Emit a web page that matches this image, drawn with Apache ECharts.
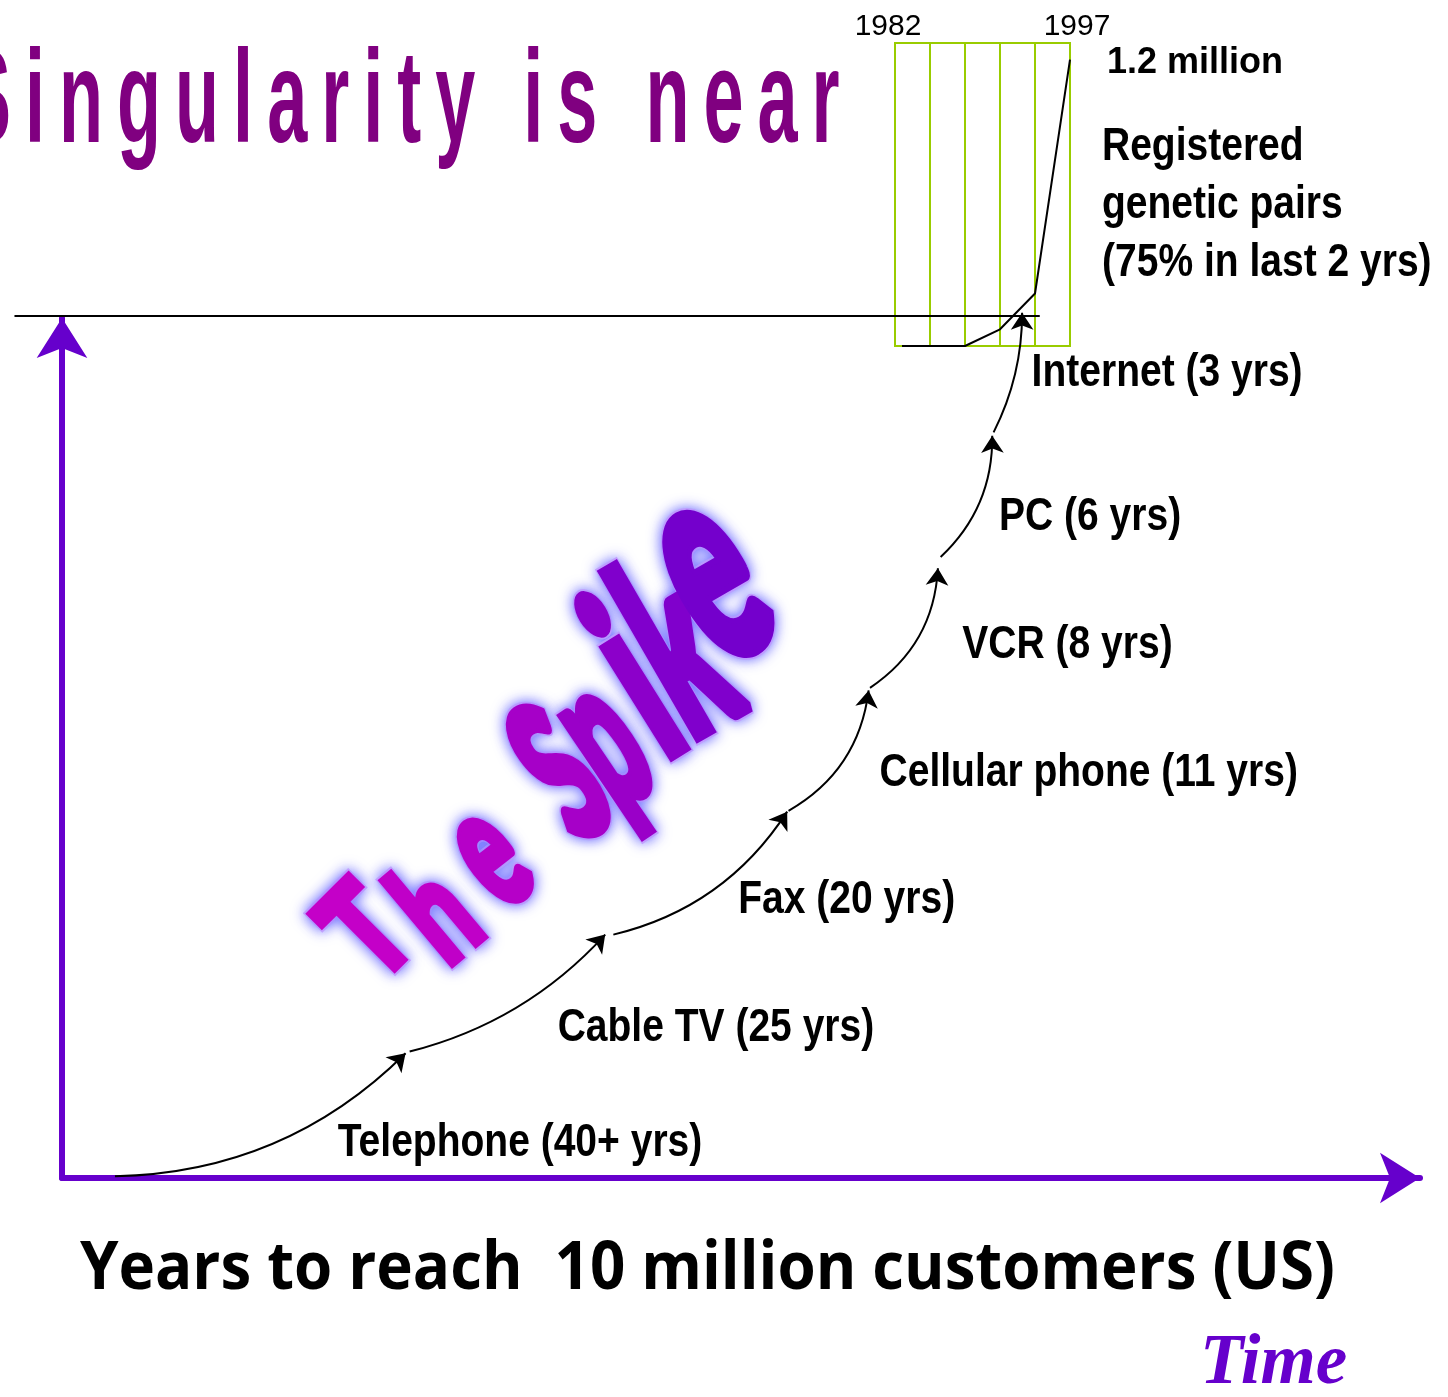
<!DOCTYPE html>
<html>
<head>
<meta charset="utf-8">
<script src="https://cdn.jsdelivr.net/npm/echarts@6/dist/echarts.min.js"></script>
<style>
  html, body { margin: 0; padding: 0; background: #fff; }
  #main { width: 1448px; height: 1397px; }
</style>
</head>
<body>
<div id="main"></div>
<script>
// steps towards 10 million customers: x = time, y = share of the 10 million (%)
var stepNames = ['Telephone (40+ yrs)', 'Cable TV (25 yrs)', 'Fax (20 yrs)', 'Cellular phone (11 yrs)', 'VCR (8 yrs)', 'PC (6 yrs)', 'Internet (3 yrs)'];
var stepStartX = [3.9, 25.6, 40.6, 53.5, 59.5, 64.7, 68.6];
var stepStartY = [0.2, 14.7, 28.3, 42.7, 57.0, 72.2, 86.7];
var stepEndX = [25.3, 40.0, 53.4, 59.4, 64.5, 68.5, 70.7];
var stepEndY = [14.5, 28.3, 42.6, 56.7, 70.9, 86.3, 100.6];
var stepBend = [-0.2, -0.15, -0.2, -0.25, -0.25, -0.22, -0.12];
var labelX = [20.3, 36.5, 49.8, 60.2, 66.3, 69.0, 71.4];
var labelY = [4.1, 17.4, 32.3, 47.1, 62.0, 76.9, 93.6];
var thresholdX = [-3.5, 72];
var thresholdY = 100.3;

// registered genetic pairs, 1982 - 1997
var pairYears = [0.6, 6, 9, 12, 15]; // years after 1982
var pairMillions = [0, 0, 0.07, 0.22, 1.2];
var yearLabels = ['1982', '1997'];

var sans = '"Liberation Sans", Arial, sans-serif';
var purple = '#6600CC';
var labelFont = 'bold 47px ' + sans;
var narrowScale = 0.83; // Liberation Sans squeezed to an Arial Narrow width

var measure = document.createElement('canvas').getContext('2d');
function textWidth(str, font) {
  measure.font = font;
  return measure.measureText(str).width;
}

// big heading, laid out letter by letter (condensed and spaced)
var headText = 'Singularity is near';
var headFont = 'bold 131px ' + sans;
var headEls = [];
var hx = -37;
for (var i = 0; i < headText.length; i++) {
  var ch = headText[i];
  if (ch !== ' ') {
    headEls.push({
      type: 'text', x: hx, y: 106, scaleX: 0.55,
      style: { text: ch, font: headFont, fill: '#800080', textVerticalAlign: 'middle', verticalAlign: 'middle' }
    });
  }
  hx += textWidth(ch, headFont) * 0.55 + 14;
}

// "The Spike" word art: letter, glyph centre x, y, size, squeeze, angle, glyph centre height (em), colour, weight stroke
var spikeFont = '900 {s}px Lato, "Liberation Sans", sans-serif';
var spike = [
  ['T', 371, 936, 136, 0.72, 45, 0.358, '#c400c8', 7],
  ['h', 440, 917, 146, 0.66, 40, 0.365, '#c000c8', 7],
  ['e', 501, 871, 174, 0.52, 38, 0.253, '#b600c8', 9],
  ['S', 566, 782, 196, 0.5, 36, 0.358, '#a600c8', 10],
  ['p', 630, 780, 210, 0.47, 34, 0.15, '#9a00c8', 10],
  ['i', 640, 690, 244, 0.55, 32, 0.36, '#8c00ca', 11],
  ['k', 682, 658, 252, 0.5, 30, 0.365, '#8000cc', 12],
  ['e', 725, 602, 285, 0.5, 30, 0.253, '#7400cc', 13]
];
var spikeEls = [];
spike.forEach(function (s) {
  var r = s[5] * Math.PI / 180;
  var lift = (0.387 - s[6]) * s[3];
  var base = {
    x: s[1] - lift * Math.sin(r), y: s[2] - lift * Math.cos(r),
    scaleX: s[4], rotation: r
  };
  var text = { text: s[0], font: spikeFont.replace('{s}', s[3]), textAlign: 'center', align: 'center', textVerticalAlign: 'middle', verticalAlign: 'middle' };
  // soft blue glow with a light rim
  spikeEls.push(echarts.util.extend({
    type: 'text', z: 1,
    style: echarts.util.extend({
      fill: '#c8a4ff', stroke: '#c8a4ff', lineWidth: s[8] + 4, lineJoin: 'round',
      textShadowBlur: 14, textShadowColor: 'rgba(100,100,255,0.9)'
    }, text)
  }, base));
  // letter body
  spikeEls.push(echarts.util.extend({
    type: 'text', z: 2,
    style: echarts.util.extend({ fill: s[7], stroke: s[7], lineWidth: s[8], lineJoin: 'round' }, text)
  }, base));
});

var caption = 'Years to reach  10 million customers (US)';
var captionFont = 'bold 66px "Open Sans", sans-serif';
var captionScale = 1255 / textWidth(caption, captionFont);

var staticEls = headEls.concat(spikeEls).concat([{
  type: 'text', x: 80, y: 1270, scaleX: captionScale,
  style: { text: caption, font: captionFont, fill: '#000', textVerticalAlign: 'middle', verticalAlign: 'middle' }
}, {
  type: 'text', x: 1102, y: 118, scaleX: narrowScale,
  style: { text: 'Registered\ngenetic pairs\n(75% in last 2 yrs)', font: labelFont, lineHeight: 58, fill: '#000' }
}]);

var myChart = echarts.init(document.getElementById('main'));

var option = {
  animation: false,
  backgroundColor: '#fff',
  title: {
    text: 'Time',
    left: 1200, top: 1329, padding: 0,
    textStyle: { fontFamily: '"Liberation Serif", serif', fontStyle: 'italic', fontWeight: 'bold', fontSize: 71, lineHeight: 71, color: purple }
  },
  grid: [
    { left: 62, top: 318, right: 28, bottom: 219, outerBoundsMode: 'none' },
    { left: 895, top: 43, width: 175, height: 303, show: true, borderColor: '#99CC00', borderWidth: 2, outerBoundsMode: 'none' }
  ],
  xAxis: [{
    gridIndex: 0, type: 'value', min: 0, max: 100,
    axisLine: { show: true, symbol: ['none', 'arrow'], symbolSize: [38, 40], lineStyle: { color: purple, width: 6 } },
    axisTick: { show: false }, axisLabel: { show: false }, splitLine: { show: false }
  }, {
    gridIndex: 1, type: 'value', min: 0, max: 15, interval: 3, position: 'top',
    axisLine: { show: false }, axisTick: { show: false },
    axisLabel: {
      show: true, margin: 1, fontSize: 30, color: '#000', fontFamily: sans,
      formatter: function (v) { return v === 0 ? '{first|' + yearLabels[0] + '}' : (v === 15 ? '{last|' + yearLabels[1] + '}' : ''); },
      rich: {
        first: { fontSize: 30, fontFamily: sans, color: '#000', padding: [0, 14, 0, 0] },
        last: { fontSize: 30, fontFamily: sans, color: '#000', padding: [0, 0, 0, 14] }
      }
    },
    splitLine: { show: true, lineStyle: { color: '#99CC00', width: 2 } }
  }],
  yAxis: [{
    gridIndex: 0, type: 'value', min: 0, max: 100,
    axisLine: { show: true, symbol: ['none', 'arrow'], symbolSize: [38, 40], lineStyle: { color: purple, width: 6 } },
    axisTick: { show: false }, axisLabel: { show: false }, splitLine: { show: false }
  }, {
    gridIndex: 1, type: 'value', min: 0, max: 1.27,
    axisLine: { show: false }, axisTick: { show: false }, axisLabel: { show: false }, splitLine: { show: false }
  }],
  series: [{
    name: '10 million',
    type: 'lines', coordinateSystem: 'cartesian2d', xAxisIndex: 0, yAxisIndex: 0, clip: false,
    symbol: 'none',
    lineStyle: { color: '#000', width: 2, opacity: 1 },
    data: [{ coords: [[thresholdX[0], thresholdY], [thresholdX[1], thresholdY]] }]
  }, {
    name: 'steps',
    type: 'lines', coordinateSystem: 'cartesian2d', xAxisIndex: 0, yAxisIndex: 0, clip: false,
    symbol: ['none', 'arrow'], symbolSize: 17,
    lineStyle: { color: '#000', width: 2, opacity: 1 },
    data: stepNames.map(function (n, i) {
      return {
        name: n,
        coords: [[stepStartX[i], stepStartY[i]], [stepEndX[i], stepEndY[i]]],
        lineStyle: { curveness: stepBend[i] }
      };
    })
  }, {
    name: 'genetic pairs',
    type: 'line', xAxisIndex: 1, yAxisIndex: 1, symbol: 'none', clip: false,
    lineStyle: { color: '#000', width: 2 },
    endLabel: {
      show: true, distance: 37, offset: [0, 3], fontFamily: sans, fontWeight: 'bold', fontSize: 36, color: '#000',
      formatter: function (p) { return p.value[1] + ' million'; }
    },
    data: pairYears.map(function (x, i) { return [x, pairMillions[i]]; })
  }],
  graphic: staticEls
};

myChart.setOption(option);

// step names, placed through the main grid's scales
var labelEls = stepNames.map(function (n, i) {
  var p = myChart.convertToPixel({ xAxisIndex: 0, yAxisIndex: 0 }, [labelX[i], labelY[i]]);
  return {
    type: 'text', x: p[0], y: p[1], scaleX: narrowScale,
    style: { text: n, font: labelFont, fill: '#000', textVerticalAlign: 'middle', verticalAlign: 'middle' }
  };
});
myChart.setOption({ graphic: staticEls.concat(labelEls) });
</script>
</body>
</html>
